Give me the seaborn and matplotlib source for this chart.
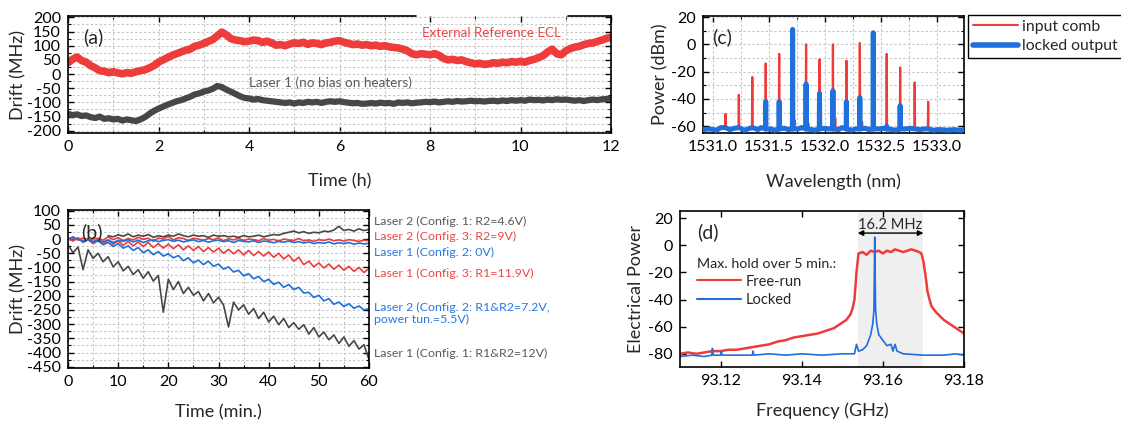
import numpy as np
import pandas as pd
import seaborn as sns
import matplotlib
matplotlib.use("Agg")
import matplotlib.pyplot as plt
from matplotlib.ticker import MultipleLocator, FormatStrFormatter
from matplotlib.lines import Line2D
from matplotlib.transforms import blended_transform_factory

# ---------------- data ----------------
# (a) long-term drift, sampled every 0.1 h from 0 to 12 h
time_a = np.linspace(0, 12, 121)
ecl_drift = [40, 52, 60, 48, 42, 30, 22, 12, 10, 5,
             8, 4, 1, 5, 3, 8, 12, 15, 22, 30,
             42, 50, 58, 66, 72, 78, 84, 88, 98, 102,
             108, 115, 122, 135, 148, 138, 125, 120, 118, 114,
             116, 120, 118, 112, 116, 110, 102, 104, 100, 106,
             110, 108, 112, 105, 110, 108, 104, 110, 112, 116,
             118, 112, 108, 104, 106, 102, 104, 100, 102, 98,
             100, 96, 94, 92, 88, 82, 72, 68, 72, 70,
             68, 72, 66, 55, 50, 52, 48, 50, 44, 40,
             36, 38, 34, 36, 40, 38, 42, 40, 44, 42,
             45, 42, 48, 52, 58, 65, 78, 88, 72, 68,
             82, 90, 95, 98, 104, 108, 110, 115, 120, 126,
             130]
laser1_drift = [-140, -145, -142, -148, -146, -152, -155, -150, -158, -156,
                -160, -158, -164, -160, -163, -166, -160, -152, -140, -130,
                -122, -115, -108, -102, -96, -92, -86, -80, -72, -68,
                -62, -58, -52, -42, -46, -55, -62, -70, -78, -84,
                -86, -90, -88, -92, -94, -96, -98, -100, -102, -100,
                -104, -100, -102, -98, -100, -98, -102, -98, -96, -98,
                -96, -99, -101, -103, -102, -105, -104, -102, -104, -101,
                -103, -102, -105, -100, -102, -100, -103, -101, -100, -98,
                -99, -97, -100, -98, -96, -98, -95, -97, -96, -94,
                -96, -95, -97, -95, -94, -96, -93, -95, -92, -94,
                -92, -94, -90, -92, -91, -93, -90, -92, -89, -91,
                -90, -92, -94, -92, -95, -92, -90, -92, -89, -88,
                -87]

# (b) drift over one hour, sampled every minute
time_b = np.linspace(0, 60, 61)
l1_cfg1 = [-20, -48, -28, -108, -38, -68, -50, -80, -62, -98,
           -80, -112, -96, -125, -108, -138, -115, -148, -128, -258,
           -142, -178, -150, -192, -170, -198, -185, -218, -192, -225,
           -205, -232, -310, -222, -250, -232, -265, -245, -280, -258,
           -292, -272, -302, -280, -312, -295, -318, -302, -335, -312,
           -345, -328, -355, -338, -368, -345, -378, -358, -388, -372,
           -425]
l2_cfg2 = [2, -6, 4, -12, -2, -16, -6, -20, -12, -26,
           -16, -32, -24, -40, -30, -48, -38, -55, -44, -60,
           -52, -66, -58, -76, -66, -84, -74, -90, -78, -96,
           -88, -106, -98, -116, -110, -130, -122, -140, -132, -150,
           -142, -160, -152, -170, -160, -178, -170, -190, -188, -206,
           -198, -218, -210, -230, -222, -238, -228, -244, -236, -250,
           -245]
l1_cfg3 = [2, -6, 4, -10, 0, -12, -2, -16, -4, -18,
           -6, -22, -8, -24, -10, -26, -12, -30, -16, -32,
           -18, -34, -20, -38, -24, -40, -26, -44, -30, -46,
           -32, -50, -36, -52, -38, -56, -40, -58, -44, -60,
           -46, -64, -50, -70, -56, -78, -64, -90, -78, -98,
           -84, -102, -88, -106, -92, -110, -96, -114, -100, -118,
           -104]
l2_cfg3 = [0, 2, -3, 4, -2, 0, 3, -4, 8, -2,
           5, -6, 2, -3, 6, -1, 3, -8, 4, 0,
           10, -3, 5, 2, -5, 3, 0, -4, 2, -2,
           4, -6, 1, -3, 3, -5, 0, -2, -6, 2,
           -4, -1, -7, 0, -3, -5, 2, -6, -3, -8,
           -2, -5, 0, -6, -3, -7, -2, -5, -8, -4,
           -6]
l1_cfg2 = [0, 8, -2, -6, 0, -8, -4, -10, -3, -12,
           -5, -8, -2, -10, -4, -12, -6, -3, -9, -5,
           -2, -8, -4, -10, -6, -3, -9, -5, -11, -6,
           -4, -9, -6, -12, -5, -8, -10, -6, -12, -7,
           -9, -13, -8, -11, -7, -12, -9, -14, -10, -16,
           -12, -15, -10, -17, -13, -16, -12, -18, -14, -17,
           -15]
time_b2 = np.linspace(8, 60, 53)
l2_cfg1 = [12, 8, 15, 10, 18, 8, 14, 10, 16, 6,
           12, 8, 14, 10, 18, 12, 8, 14, 10, 12,
           6, 14, 10, 12, 8, 10, 6, 12, 8, 10,
           14, 8, 12, 16, 14, 20, 24, 28, 22, 26,
           20, 24, 22, 28, 26, 32, 45, 30, 34, 28,
           36, 30, 34]
labels_b = ["Laser 2 (Config. 1: R2=4.6V)", "Laser 2 (Config. 3: R2=9V)",
            "Laser 1 (Config. 2: 0V)", "Laser 1 (Config. 3: R1=11.9V)",
            "Laser 2 (Config. 2: R1&R2=7.2V,\npower tun.=5.5V)",
            "Laser 1 (Config. 1: R1&R2=12V)"]
label_y_b = [61, 8, -47, -121, -264, -405]

# (c) optical spectrum: comb lines
comb_wl = [1531.11, 1531.23, 1531.35, 1531.47, 1531.59, 1531.71, 1531.83, 1531.95,
           1532.07, 1532.19, 1532.31, 1532.43, 1532.55, 1532.67, 1532.80, 1532.92]
comb_input = [-51, -37, -24, -14, -7, 10, 0, -11, 0, -12, 1, 8, -7, -17, -28, -42]
comb_locked = [-61, -61, -61, -42, -42, 11, -29, -36, -34, -42, -39, 8.5, -60, -45, -62, -62]
floor_wl = [1530.91, 1530.97, 1531.03, 1531.07, 1531.15, 1531.19, 1531.28, 1531.31,
            1531.40, 1531.43, 1531.52, 1531.55, 1531.64, 1531.67, 1531.76, 1531.79,
            1531.88, 1531.91, 1532.00, 1532.03, 1532.12, 1532.15, 1532.24, 1532.27,
            1532.36, 1532.39, 1532.48, 1532.51, 1532.60, 1532.63, 1532.72, 1532.76,
            1532.85, 1532.88, 1532.97, 1533.03, 1533.09, 1533.15, 1533.21, 1533.24]
floor_locked = [-62.5, -62, -63, -61, -62.5, -61.5, -63, -62, -62.5, -61, -62, -63,
                -61.5, -62.5, -62, -61, -62.5, -63, -61.5, -62, -62.5, -61, -63, -62,
                -61.5, -62.5, -62, -61.5, -62.5, -63, -62, -61.5, -62.5, -62, -63,
                -62.5, -63, -62.5, -63, -62.5]
spur_wl = [1531.73, 1531.85, 1532.09, 1532.33, 1531.61]
spur_db = [-56, -58, -54, -57, -60]

# (d) RF spectra
freq_fr = [93.110, 93.112, 93.114, 93.116, 93.118, 93.120, 93.122, 93.124, 93.126, 93.128,
           93.130, 93.132, 93.134, 93.136, 93.138, 93.140, 93.142, 93.144, 93.146, 93.148,
           93.150, 93.151, 93.152, 93.1525, 93.153, 93.1535,
           93.154, 93.155, 93.156, 93.157, 93.158, 93.159, 93.160, 93.161, 93.162, 93.163,
           93.164, 93.165, 93.166, 93.167, 93.168, 93.169,
           93.1695, 93.170, 93.1705, 93.171, 93.1715,
           93.172, 93.173, 93.174, 93.175, 93.176, 93.177, 93.178, 93.179, 93.180]
power_fr = [-80, -79, -80, -79, -78, -78, -77, -77, -76, -75,
            -74, -73, -71, -70, -68, -67, -66, -65, -63, -61,
            -57, -55, -51, -47, -40, -20,
            -6, -5, -7, -4, -5, -4, -6, -4, -5, -3,
            -4, -5, -4, -3, -4, -5,
            -6, -12, -22, -34, -40,
            -45, -49, -52, -55, -57, -59, -61, -63, -65]
freq_lk = [93.110, 93.113, 93.116, 93.1178, 93.118, 93.1182, 93.120, 93.1202, 93.1204,
           93.124, 93.1278, 93.128, 93.1282, 93.132, 93.136, 93.140, 93.145, 93.150,
           93.153, 93.1535, 93.154, 93.155, 93.156, 93.157, 93.1575, 93.1578, 93.158,
           93.1582, 93.1585, 93.159, 93.160, 93.161, 93.162, 93.1625, 93.163, 93.1635,
           93.165, 93.170, 93.175, 93.178, 93.180]
power_lk = [-82, -81, -82, -81, -76, -81, -81, -78, -81,
            -81, -81, -78, -81, -80, -81, -80, -81, -80,
            -80, -73, -78, -77, -74, -66, -58, -48, 6,
            -47, -58, -66, -70, -74, -73, -78, -73, -78,
            -80, -81, -81, -80, -81]
band_lo, band_hi = 93.1538, 93.1700

# ---------------- style ----------------
sns.set_theme(style="ticks")
plt.rcParams['font.family'] = ['Lato', 'DejaVu Sans']
plt.rcParams['axes.unicode_minus'] = False

RED = "#EE3B3B"
BLUE = "#1F6FDC"
GRAY = "#474747"
TXT_GRAY = "#5A5A5A"
TXT_RED = "#F04646"
TXT_BLUE = "#2877E0"
LABEL_FS = 13
TICK_FS = 11.5
PANEL_FS = 14

fig = plt.figure(figsize=(11.21, 4.25), dpi=100)
W, H = 1121, 425


def add_ax(l, r, t, b):
    return fig.add_axes([l / W, 1 - b / H, (r - l) / W, (b - t) / H])


def style(ax, xmaj, xmin, ymaj, ymin, grid=True):
    ax.xaxis.set_major_locator(MultipleLocator(xmaj))
    ax.xaxis.set_minor_locator(MultipleLocator(xmin))
    ax.yaxis.set_major_locator(MultipleLocator(ymaj))
    ax.yaxis.set_minor_locator(MultipleLocator(ymin))
    ax.tick_params(which='both', direction='in', top=True, right=True,
                   colors='black', labelsize=TICK_FS, pad=5)
    ax.tick_params(which='major', length=4, width=1)
    ax.tick_params(which='minor', length=2.5, width=0.8)
    for s in ax.spines.values():
        s.set_color('black')
        s.set_linewidth(1.2)
    if grid:
        ax.grid(which='both', ls=(0, (2, 2)), color='#c4c4c4', lw=0.8)
        ax.set_axisbelow(True)


def line(ax, x, y, color, lw, label=None, z=2):
    sns.lineplot(x=np.asarray(x, dtype=float), y=np.asarray(y, dtype=float), ax=ax,
                 color=color, lw=lw, sort=False, estimator=None, zorder=z, label=label)
    if ax.get_legend() is not None:
        ax.get_legend().remove()


# ---- (a)
axa = add_ax(68, 611, 15.7, 133.3)
style(axa, 2, 1, 50, 25)
line(axa, time_a, ecl_drift, RED, 5.5)
line(axa, time_a, laser1_drift, GRAY, 4.5)
axa.set_xlim(0, 12)
axa.set_ylim(-209, 206)
axa.set_xlabel("Time (h)", fontsize=LABEL_FS, labelpad=14)
axa.set_ylabel("Drift (MHz)", fontsize=LABEL_FS, labelpad=0)
axa.text(9.36, 144, "External Reference ECL", color=TXT_RED, fontsize=9.6,
         ha='center', va='center')
axa.text(5.81, -30, "Laser 1 (no bias on heaters)", color=TXT_GRAY, fontsize=9.7,
         ha='center', va='center')
axa.text(0.028, 0.82, "(a)", transform=axa.transAxes, fontsize=PANEL_FS, va='center')
axa.spines['top'].set_visible(False)
for x0, x1 in [(0, 7.7 / 12), (11.06 / 12, 1)]:
    axa.add_line(Line2D([x0, x1], [1, 1], transform=axa.transAxes, color='black',
                        lw=1.2, clip_on=False))

# ---- (b)
axb = add_ax(68, 369, 210, 367.7)
style(axb, 10, 5, 50, 25)
line(axb, time_b, l1_cfg1, GRAY, 1.2)
line(axb, time_b, l2_cfg2, BLUE, 1.2)
line(axb, time_b, l1_cfg3, RED, 1.2)
line(axb, time_b, l2_cfg3, RED, 1.2)
line(axb, time_b, l1_cfg2, BLUE, 1.2)
line(axb, time_b2, l2_cfg1, GRAY, 1.2)
axb.set_xlim(0, 60)
axb.set_ylim(-453.5, 102.5)
axb.set_xlabel("Time (min.)", fontsize=LABEL_FS, labelpad=11)
axb.set_ylabel("Drift (MHz)", fontsize=LABEL_FS, labelpad=0)
axb.text(0.045, 0.862, "(b)", transform=axb.transAxes, fontsize=PANEL_FS, va='center')
tr = blended_transform_factory(axb.transAxes, axb.transData)
for lab, yv, c in zip(labels_b, label_y_b,
                      [TXT_GRAY, TXT_RED, TXT_BLUE, TXT_RED, TXT_BLUE, TXT_GRAY]):
    axb.text(1.017, yv, lab, transform=tr, color=c, fontsize=8.9, va='center',
             linespacing=1.1)

# ---- (c)
axc = add_ax(703, 964, 15.7, 133.3)
style(axc, 0.5, 0.25, 20, 10)
red_x, red_y = [floor_wl[0]], [-62]
pts = sorted(list(zip(comb_wl, comb_input)) + list(zip(spur_wl, spur_db)))
for wl, p in pts:
    red_x += [wl - 0.003, wl, wl + 0.003]
    red_y += [-62, p, -62]
red_x.append(floor_wl[-1])
red_y.append(-62)
line(axc, red_x, red_y, RED, 1.6, z=2)
blue_pts = sorted(list(zip(comb_wl, comb_locked)) + list(zip(floor_wl, floor_locked)))
blue_x, blue_y = [], []
for wl, p in blue_pts:
    if p > -60.5:
        blue_x += [wl - 0.002, wl, wl + 0.002]
        blue_y += [-62, p, -62]
    else:
        blue_x.append(wl)
        blue_y.append(p)
line(axc, blue_x, blue_y, BLUE, 3.6, z=3)
axc.set_xlim(1530.91, 1533.24)
axc.set_ylim(-65.2, 21)
axc.xaxis.set_major_formatter(FormatStrFormatter('%.1f'))
axc.set_xlabel("Wavelength (nm)", fontsize=LABEL_FS, labelpad=14)
axc.set_ylabel("Power (dBm)", fontsize=LABEL_FS, labelpad=2)
axc.text(0.035, 0.82, "(c)", transform=axc.transAxes, fontsize=PANEL_FS, va='center')
leg = fig.legend(handles=[Line2D([], [], color=RED, lw=1.5),
                          Line2D([], [], color=BLUE, lw=4)],
                 labels=["input comb", "locked output"], loc='upper left',
                 bbox_to_anchor=(968 / W, 1 - 15 / H), frameon=True, fancybox=False,
                 edgecolor='black', framealpha=1, fontsize=11.3, handlelength=2.9,
                 borderpad=0.3, labelspacing=0.35, handletextpad=0.25, borderaxespad=0)
leg.get_frame().set_linewidth(1.0)

# ---- (d)
axd = add_ax(680, 964, 210.7, 366.7)
style(axd, 0.02, 0.01, 20, 10, grid=False)
axd.tick_params(which='minor', length=0)
axd.axvspan(band_lo, band_hi, color='#efefef', lw=0, zorder=0)
line(axd, freq_fr, power_fr, RED, 1.8, label="Free-run")
line(axd, freq_lk, power_lk, BLUE, 1.2, label="Locked")
axd.set_xlim(93.11, 93.18)
axd.set_ylim(-89.5, 25.5)
axd.xaxis.set_major_formatter(FormatStrFormatter('%.2f'))
axd.set_xlabel("Frequency (GHz)", fontsize=LABEL_FS, labelpad=11)
axd.set_ylabel("Electrical Power", fontsize=LABEL_FS, labelpad=3)
axd.text(0.06, 0.865, "(d)", transform=axd.transAxes, fontsize=PANEL_FS, va='center')
axd.annotate("", xy=(band_lo, 9), xytext=(band_hi, 9),
             arrowprops=dict(arrowstyle='<|-|>', color='black', lw=1.0,
                             shrinkA=0, shrinkB=0, mutation_scale=8))
axd.text((band_lo + band_hi) / 2, 15, "16.2 MHz", ha='center', va='center', fontsize=10.5)
legd = axd.legend(handles=[Line2D([], [], color=RED, lw=1.5), Line2D([], [], color=BLUE, lw=1.5)],
                  labels=["Free-run", "Locked"], title="Max. hold over 5 min.:",
                  loc='upper left', bbox_to_anchor=(0.015, 0.78), frameon=False,
                  fontsize=10.5, title_fontsize=10.3, handlelength=3.0, labelspacing=0.3,
                  handletextpad=0.3)
legd._legend_box.align = "left"

fig.savefig("out.png", dpi=100)
